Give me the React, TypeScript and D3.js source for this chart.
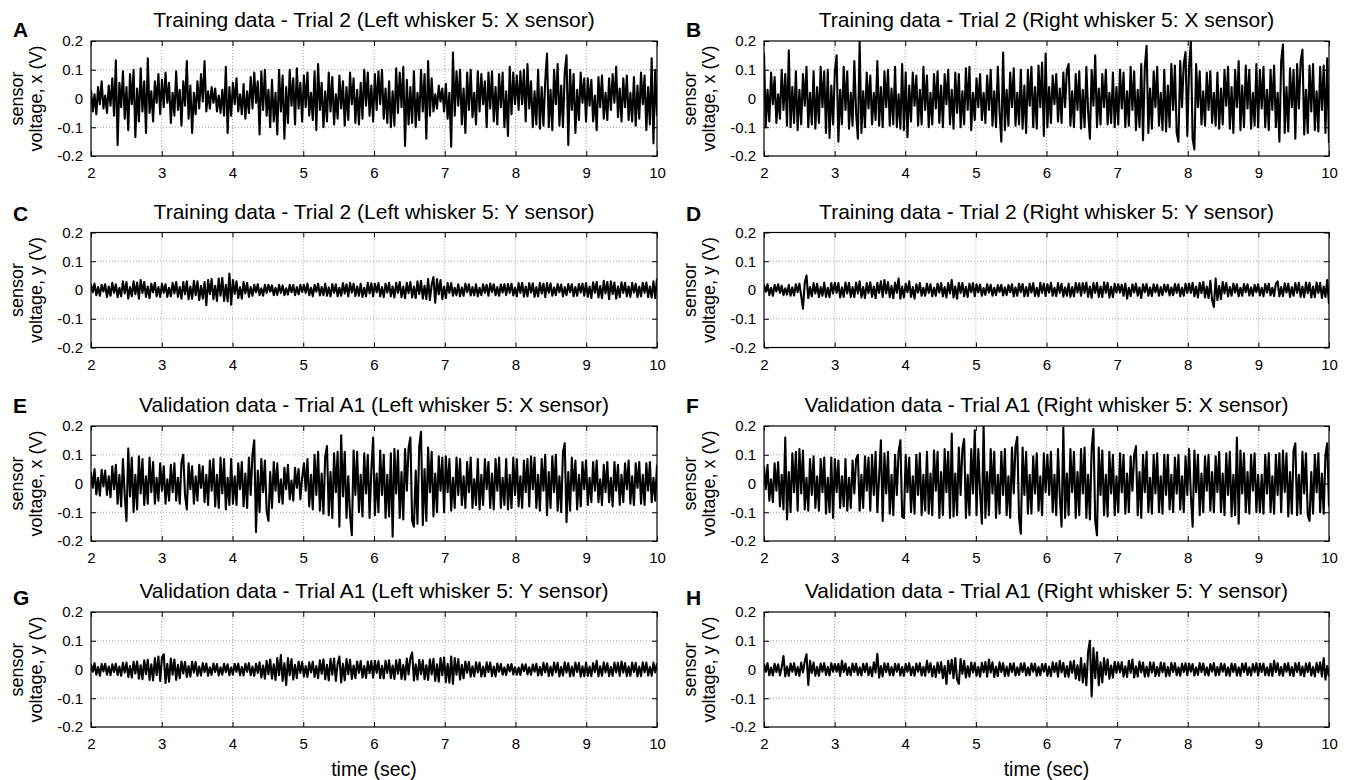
import React, { useRef, useEffect } from "react";
import * as d3 from "d3";

const W = 1354;
const H = 780;

// axis ticks
const xTicks = [2, 3, 4, 5, 6, 7, 8, 9, 10];
const yTicks = [-0.2, -0.1, 0, 0.1, 0.2];
const yTickLabels = ["-0.2", "-0.1", "0", "0.1", "0.2"];
const xGrid = [3, 4, 5, 6, 7, 8, 9];
const yGrid = [-0.1, 0, 0.1];

const panelLetters = ["A", "B", "C", "D", "E", "F", "G", "H"];
const panelTitles = [
  "Training data - Trial 2 (Left whisker 5: X sensor)",
  "Training data - Trial 2 (Right whisker 5: X sensor)",
  "Training data - Trial 2 (Left whisker 5: Y sensor)",
  "Training data - Trial 2 (Right whisker 5: Y sensor)",
  "Validation data - Trial A1 (Left whisker 5: X sensor)",
  "Validation data - Trial A1 (Right whisker 5: X sensor)",
  "Validation data - Trial A1 (Left whisker 5: Y sensor)",
  "Validation data - Trial A1 (Right whisker 5: Y sensor)",
];
const yLabelLines = [
  ["sensor", "voltage, x (V)"],
  ["sensor", "voltage, x (V)"],
  ["sensor", "voltage, y (V)"],
  ["sensor", "voltage, y (V)"],
  ["sensor", "voltage, x (V)"],
  ["sensor", "voltage, x (V)"],
  ["sensor", "voltage, y (V)"],
  ["sensor", "voltage, y (V)"],
];

// sensor voltage, in mV, 2 s .. 10 s (one row per second)
const trainLeftX = [
  30,-45,15,-55,40,-20,60,-35,10,-50,45,-25,70,-60,133,-162,55,-30,95,-70,40,-110,85,-20,100,-135,35,-80,105,-45,60,-120,140,-50,25,-80,60,-15,85,-55,
  65,-30,90,-15,55,-85,20,-60,95,-40,30,-95,60,-25,130,-70,45,-120,20,-55,60,-35,85,-10,130,-45,25,-35,40,-15,35,-45,10,-50,30,-60,110,-120,40,-60,
  55,-20,70,-45,15,-55,50,-70,25,-50,75,-35,90,-15,60,-125,95,-40,100,-60,30,-100,65,-80,20,-125,100,-45,80,-140,40,-85,100,-25,70,-90,105,-35,55,-80,
  80,-30,90,-60,20,-75,95,-110,120,-40,55,-100,25,-80,90,-45,75,-90,15,-70,80,-35,60,-95,40,-75,90,-20,70,-85,30,-90,55,-70,100,-25,90,-60,45,-80,
  85,-40,95,-20,100,-70,35,-85,60,-100,25,-95,105,-50,90,-30,110,-165,65,-90,40,-85,95,-100,20,-75,100,-45,85,-140,130,-60,70,-45,15,-35,45,-10,35,-45,
  50,-70,20,-168,160,-60,95,-25,100,-90,35,-120,90,-40,100,-65,20,-90,95,-45,85,-20,60,-100,90,-35,95,-80,40,-90,85,-30,90,-100,25,-130,110,-55,90,-20,
  80,-40,95,-20,100,-80,120,-35,60,-100,25,-90,100,-105,40,-95,60,156,-100,30,-110,100,-20,120,-95,45,-100,90,150,-162,100,-40,85,-120,30,-75,90,-15,70,-80,
  70,-25,65,-80,10,-110,75,-30,80,-70,20,-75,70,-40,85,-15,110,-65,35,-80,70,-30,80,-75,20,-80,75,-95,45,-70,90,-20,80,-110,40,-90,140,-156,100,-60,
];
const trainRightX = [
  160,-100,30,-80,90,-20,75,-85,15,-70,100,-40,85,-95,168,-100,40,-85,95,-110,30,-90,85,-25,110,-100,20,-90,95,-105,40,-85,110,-30,95,-120,100,-137,45,-90,
  95,150,-150,30,-90,110,-40,95,-105,20,-95,130,-50,-140,197,-120,25,-100,90,-35,80,-90,20,-75,130,-95,40,-100,95,-30,100,-95,35,-90,110,-100,15,-105,120,-110,
  90,-135,45,-80,90,-25,80,-95,30,-90,110,-40,80,-100,20,-90,85,-35,95,-85,45,-100,85,-20,100,-90,30,-105,90,-50,85,-100,25,-90,105,-40,110,-110,20,-75,
  70,-30,85,-75,20,-85,80,-40,100,-95,25,-100,110,-45,-150,160,-110,30,-95,90,-30,105,-95,20,-90,100,-105,45,-120,100,-25,110,-100,40,-105,115,-30,125,-130,156,
  -100,40,-85,80,-20,85,-80,35,-85,90,-30,100,120,-95,25,-100,85,-40,95,-105,30,-100,110,-45,-140,100,-25,150,-100,35,-90,85,-30,100,-90,20,-85,90,-100,40,
  -90,100,-35,90,-100,25,-95,110,-40,95,-110,30,-100,120,-145,110,183,-120,35,-105,95,-30,110,-95,20,-110,100,-115,45,-100,120,-40,115,-120,-150,130,-30,120,162,-130,
  110,197,-140,-177,120,-30,95,-90,25,-95,90,-40,95,-85,20,-95,90,-105,35,-90,100,-25,110,-105,40,-120,100,-30,130,-110,45,-100,115,-35,100,-105,20,-95,120,-100,
  100,-35,110,-100,30,-110,100,-40,115,-100,20,-150,130,188,-120,40,-115,105,-30,100,-140,120,-35,130,170,-125,30,-120,115,-45,120,-110,25,-115,110,-40,115,-120,140,-155,
];
const trainLeftY = [
  20,-8,22,-18,10,-20,18,-5,20,-25,12,-20,25,-10,20,-25,8,-22,30,-12,28,-30,10,-22,30,-15,26,-30,35,-10,28,-24,12,-28,22,-8,25,-22,10,-24,
  22,-10,20,-24,8,-22,25,-12,28,-24,10,-30,28,-15,30,-32,12,-30,32,-18,30,-35,15,-30,28,-53,35,-14,38,-32,15,-38,40,-20,42,-38,18,-40,57,-51,
  35,-14,30,-28,10,-30,28,-12,25,-24,10,-20,18,-8,20,-18,6,-20,18,-10,18,-6,16,-18,8,-17,18,-10,16,-18,6,-16,18,-8,17,-18,10,-15,18,-7,
  18,-10,22,-18,8,-22,18,-6,22,-19,10,-18,22,-20,9,-22,21,-10,20,-22,8,-20,24,-12,20,-22,25,-9,22,-21,12,-20,22,-24,8,-22,25,-12,23,-22,
  22,-8,24,-22,10,-25,22,-9,25,-22,12,-26,25,-10,28,-25,12,-28,25,-11,28,-26,12,-28,30,-14,32,-30,15,-32,38,-35,18,45,-44,38,-15,35,-32,12,
  -28,25,-10,24,-20,8,-18,20,-22,9,-20,22,-8,20,-19,10,-18,20,-22,8,-18,20,-10,18,-20,22,-7,20,-18,10,-20,19,-9,20,-18,21,-10,22,-19,8,
  -22,24,-10,25,-23,12,-22,24,-9,23,-24,10,-22,25,-12,22,-25,24,-10,23,-20,9,-18,21,-8,19,-22,10,-18,21,-8,20,-22,10,-20,21,-9,22,-20,24,
  -24,12,-28,27,-10,28,-26,14,-28,32,-12,28,-32,30,-14,26,-30,12,-25,27,-10,25,-22,12,-24,25,-9,22,-25,12,-22,25,-10,26,-25,12,-26,30,-28,40,
];
const trainRightY = [
  18,-6,20,-18,8,-20,18,-5,20,-10,15,-18,6,-16,18,-20,9,-19,20,-8,22,-20,-65,25,50,-28,10,-22,24,-12,22,-25,10,-20,26,-24,8,-25,24,-12,
  25,-10,24,-26,9,-24,26,-12,25,-24,10,-25,26,-12,30,-26,10,-28,24,-11,27,-24,12,-28,25,-10,30,-24,35,-12,28,-25,14,-28,26,-10,40,-30,12,-26,
  22,-8,30,-24,10,-30,20,-9,24,-20,8,-20,22,-10,20,-22,8,-20,22,-9,24,-22,10,-26,24,-12,35,-26,12,-30,25,-10,24,-22,11,-24,22,-8,24,-22,
  20,-8,19,-20,7,-17,20,-9,18,-20,8,-18,17,-7,18,-19,9,-18,17,-8,20,-22,9,-20,22,-8,21,-22,10,-21,22,-9,24,-21,8,-22,25,-10,22,-21,
  20,-9,25,-20,8,-21,24,-10,22,-23,9,-20,22,-24,10,-22,25,-9,23,-20,24,-10,26,-24,12,-27,24,-10,25,-24,12,-25,27,-10,25,-26,11,-25,22,-9,
  20,-9,18,-20,22,-30,8,-21,20,-9,22,-20,9,-28,20,-8,21,-20,9,-21,20,-8,18,-20,10,-18,19,-7,18,-19,9,-18,21,-10,20,-22,8,-20,22,-10,
  22,-10,25,-22,12,-26,25,-11,28,-26,12,-28,32,-35,-59,40,-35,14,-32,28,-12,25,-22,10,-20,22,-9,20,-22,8,-20,21,-8,20,-19,9,-20,18,-8,20,
  -19,8,-22,21,-9,22,-19,8,-21,22,30,-22,10,-21,23,-9,22,-24,10,-20,24,-10,25,-24,12,-25,26,-11,25,-26,12,-25,26,-10,25,-28,12,-24,35,-48,
];
const validLeftX = [
  40,-15,50,-38,20,-42,48,-10,45,-40,25,-48,60,-20,65,-70,30,-80,85,-40,-130,122,-45,90,-100,30,-90,95,-35,85,-75,25,-70,90,-30,75,-70,20,-60,70,
  -25,60,-70,15,-60,65,-30,70,-60,20,-70,75,100,-40,-90,70,-20,60,-70,25,-60,65,-15,60,-65,30,-75,80,-25,85,-80,30,-85,90,-35,85,-90,20,-75,85,
  -70,25,-75,70,-20,75,-80,35,-85,90,-40,100,150,-169,45,-100,85,-30,80,-95,-130,40,-85,75,-25,70,-65,15,-70,55,-20,65,-55,10,-60,55,-15,50,-55,20,
  70,-25,85,-80,30,-90,100,-40,110,-95,35,-105,95,130,-110,40,-120,105,-30,110,-150,168,-45,110,-120,25,-110,-180,115,-40,110,-100,30,-115,105,-35,100,-120,45,160,
  -110,35,-100,115,-40,100,-120,30,-115,105,-185,120,-35,115,-120,40,-125,120,-25,125,160,-130,-150,45,-140,130,180,-145,50,-130,125,-30,110,-115,35,-100,95,-25,90,-100,
  95,-30,85,-95,20,-85,90,-40,85,-75,25,-85,75,-30,90,-85,15,-75,85,-90,30,-75,85,-20,75,-85,35,-90,85,-25,90,-85,20,-75,85,-90,30,-85,90,-40,
  85,-80,25,-85,80,-30,85,-80,95,-20,90,-85,30,-95,85,-25,100,-110,40,-85,95,-30,100,-95,25,-100,110,140,-135,40,-95,90,-25,80,-90,30,-80,75,-20,80,
  -75,20,-65,75,-25,80,-65,15,-75,65,-30,75,-65,20,-80,75,-25,65,-75,30,-65,70,-20,80,-70,25,-75,70,-15,75,-70,30,-75,70,-25,75,-65,20,-60,65,
];
const validRightX = [
  60,-20,65,-60,15,-65,70,-25,75,-80,30,-90,160,-125,40,-100,105,-30,110,-95,120,-35,115,-90,20,-95,85,-40,95,-85,25,-95,85,-30,90,-105,20,-100,90,-120,
  85,-30,80,-85,25,-80,85,-95,20,-85,80,-35,85,100,-95,30,-85,95,-25,90,-95,100,-40,110,-100,25,150,-130,105,-35,110,-105,30,-110,100,-40,110,150,-115,-120,
  100,-30,90,-100,25,-105,100,-40,105,-110,30,-95,110,-105,35,-110,115,-25,110,-120,40,-110,120,-30,110,-120,174,-115,35,-110,125,-40,120,155,-120,30,-110,120,-35,185,
  -110,120,-30,-140,200,-120,40,-110,120,-35,110,-120,30,-105,110,-40,120,-110,25,-120,125,-35,130,162,-120,-175,125,-40,110,-105,30,-105,95,-35,105,-95,25,-110,105,-30,
  100,-40,110,-100,30,-110,120,-45,-150,195,-120,35,-110,120,-30,110,-120,40,-110,120,-35,125,-120,30,-125,120,190,-130,-180,125,-40,115,-110,30,-115,110,-35,100,-110,25,
  -100,105,-30,100,-105,35,-100,95,-25,100,130,-110,40,-120,100,-30,110,-100,20,-105,100,-35,105,-100,25,-105,100,-40,100,-90,30,-100,90,-35,100,-90,25,-100,95,-40,
  120,-40,-150,115,-30,100,-110,35,-100,95,-25,100,-95,40,-100,95,-30,110,-100,35,-110,105,-40,110,-115,30,-110,160,-140,115,-35,105,-100,40,-105,100,-25,105,-100,30,
  -100,30,-105,100,-35,105,-100,25,-105,100,-40,105,-100,115,-30,105,-115,40,-105,115,140,-110,30,-105,110,-35,105,-110,-130,40,-105,100,-30,105,-100,35,-105,100,140,-80,
];
const validLeftY = [
  18,-8,22,-18,9,-22,19,-7,20,-18,10,-20,18,-9,20,-19,10,-22,23,-11,24,-26,12,-28,27,-14,28,-32,15,-34,32,-16,34,-36,18,-38,40,-20,45,-40,
  42,53,-47,20,-42,38,-18,35,-36,16,-30,28,-14,27,-26,12,-25,27,-11,26,-22,10,-21,22,-9,21,-22,8,-19,21,-9,19,-21,8,-18,20,-9,18,-20,8,
  -18,20,-8,21,-20,9,-21,20,-8,22,-20,10,-22,20,-12,25,-28,14,-32,30,-16,35,-32,18,-36,40,-20,50,-40,22,-54,40,-20,36,-35,16,-30,28,-12,26,
  -25,12,-26,25,-10,27,-26,12,-30,32,-15,35,-34,16,-38,37,-18,38,-40,20,45,-45,20,-38,36,-16,34,-33,14,-30,28,-12,29,-28,12,-29,28,-13,29,-28,
  30,-12,29,-30,13,-31,30,-12,32,-30,14,-33,32,-15,35,-33,16,-35,38,-17,40,59,-38,18,-35,34,-16,32,-34,15,-36,35,-17,37,-40,18,-42,40,-20,42,
  -44,20,-46,45,-50,40,-18,36,-35,16,-30,28,-12,26,-25,11,-24,25,-10,24,-25,10,-24,25,-9,24,-23,10,-24,21,-8,19,-18,8,-19,17,-7,19,-17,8,
  -18,7,-19,18,-6,18,-17,8,-18,17,-8,20,-21,9,-20,23,-10,21,-23,10,-21,24,-10,23,-24,9,-21,25,-11,22,-24,10,-22,24,-9,23,-25,11,-23,24,
  -22,10,-23,22,-9,30,-24,11,-22,25,-10,22,-23,9,-22,24,-10,23,-22,28,-11,22,-23,10,-22,24,-9,23,-24,10,-23,25,-10,24,-21,9,-22,24,-10,22,
];
const validRightY = [
  20,-8,22,-20,7,-21,20,-9,18,-20,8,47,-24,10,-22,21,-8,22,-19,9,-22,24,-10,28,53,-54,30,-12,24,-22,9,-22,21,-8,22,-19,9,-21,22,-8,
  19,-8,20,-22,30,-9,21,-19,8,-20,21,-9,20,-19,8,-21,20,-9,21,-20,9,-24,25,-10,55,-28,12,-24,22,-9,21,-20,9,-21,20,-8,19,-21,9,-22,
  20,-8,22,-20,9,-22,21,-8,22,-21,9,-22,30,-10,22,-24,11,-26,24,-12,26,-30,12,-50,30,-14,34,-30,40,-35,-50,36,-15,30,-28,12,-25,24,-10,23,
  -22,9,-25,23,-10,26,-25,35,-11,25,-26,10,-23,25,-9,22,-23,10,-22,21,-9,22,-21,8,-19,21,-9,22,-21,8,-20,21,-8,20,-22,9,-20,19,-8,20,
  -22,10,-23,25,-9,22,-25,30,-10,23,-25,12,-26,28,-12,30,-32,15,-38,40,-45,20,-55,60,100,-94,75,-30,60,-55,25,-45,40,-18,35,-32,14,-28,27,-12,
  25,-10,26,-25,11,-26,30,-12,35,-28,11,-25,28,-10,24,-25,10,-24,25,-11,24,-23,9,-22,24,-10,22,-24,9,-22,23,-9,22,-20,8,-22,20,-9,22,-20,
  21,-8,19,-21,8,-19,22,-9,21,-19,8,-21,19,-8,22,-21,9,-19,21,-8,19,-21,8,-22,21,-9,19,-21,8,-22,21,-9,22,-19,8,-21,19,-9,22,-21,
  20,-9,21,-20,8,-21,20,-22,30,-9,22,-20,9,-22,20,-8,22,-20,9,-23,22,-9,23,-20,10,-24,21,-9,23,-21,9,-24,23,-10,25,-24,40,-35,12,-24,
];

const signals = [
  trainLeftX, trainRightX, trainLeftY, trainRightY,
  validLeftX, validRightX, validLeftY, validRightY,
];

const App = () => {
  const svgRef = useRef<SVGSVGElement>(null);

  useEffect(() => {
    const svg = d3.select(svgRef.current);
    svg.selectAll("*").remove();

    const font = "'Liberation Sans', Arial, Helvetica, sans-serif";
    // plot boxes
    const colLeft = [91, 764];
    const colRight = [657, 1329];
    const rowTop = [41, 232.5, 426, 612];
    const plotH = 115;
    const letterBase = [37, 221, 413, 605];

    signals.forEach((sig, i) => {
      const col = i % 2;
      const row = Math.floor(i / 2);
      const x0 = colLeft[col];
      const x1 = colRight[col];
      const y0 = rowTop[row];
      const y1 = y0 + plotH;

      const x = d3.scaleLinear().domain([2, 10]).range([x0, x1]);
      const y = d3.scaleLinear().domain([-0.2, 0.2]).range([y1, y0]);

      const g = svg.append("g");

      // dotted grid
      g.selectAll(".gx")
        .data(xGrid)
        .enter()
        .append("line")
        .attr("x1", (d) => x(d))
        .attr("x2", (d) => x(d))
        .attr("y1", y0)
        .attr("y2", y1)
        .attr("stroke", "#8a8a8a")
        .attr("stroke-width", 0.8)
        .attr("stroke-dasharray", "1,2");
      g.selectAll(".gy")
        .data(yGrid)
        .enter()
        .append("line")
        .attr("x1", x0)
        .attr("x2", x1)
        .attr("y1", (d) => y(d))
        .attr("y2", (d) => y(d))
        .attr("stroke", "#8a8a8a")
        .attr("stroke-width", 0.8)
        .attr("stroke-dasharray", "1,2");

      // signal
      const clipId = `clip-${i}`;
      svg
        .append("clipPath")
        .attr("id", clipId)
        .append("rect")
        .attr("x", x0)
        .attr("y", y0)
        .attr("width", x1 - x0)
        .attr("height", plotH);

      const n = sig.length;
      const line = d3
        .line<number>()
        .x((_, k) => x(2 + (k * 8) / (n - 1)))
        .y((d) => y(d / 1000));

      g.append("path")
        .datum(sig)
        .attr("d", line)
        .attr("fill", "none")
        .attr("stroke", "#000")
        .attr("stroke-width", 2.1)
        .attr("stroke-linejoin", "round")
        .attr("clip-path", `url(#${clipId})`);

      // axes, matlab style ticks pointing inward
      const bottom = g
        .append("g")
        .attr("transform", `translate(0,${y1})`)
        .call(
          d3.axisBottom(x).tickValues(xTicks).tickSizeInner(-5).tickSizeOuter(0).tickPadding(11.5).tickFormat(d3.format("d"))
        );
      const top = g
        .append("g")
        .attr("transform", `translate(0,${y0})`)
        .call(d3.axisTop(x).tickValues(xTicks).tickSizeInner(-5).tickSizeOuter(0).tickFormat(() => ""));
      const left = g
        .append("g")
        .attr("transform", `translate(${x0},0)`)
        .call(
          d3.axisLeft(y).tickValues(yTicks).tickSizeInner(-5).tickSizeOuter(0).tickPadding(8)
            .tickFormat((_, k) => yTickLabels[k])
        );
      const right = g
        .append("g")
        .attr("transform", `translate(${x1},0)`)
        .call(d3.axisRight(y).tickValues(yTicks).tickSizeInner(-5).tickSizeOuter(0).tickFormat(() => ""));

      [bottom, top, left, right].forEach((a) => {
        a.select(".domain").remove();
        a.selectAll("line").attr("stroke", "#000");
        a.selectAll("text").attr("font-family", font).attr("font-size", 15).attr("fill", "#000");
      });

      // box
      g.append("rect")
        .attr("x", x0)
        .attr("y", y0)
        .attr("width", x1 - x0)
        .attr("height", plotH)
        .attr("fill", "none")
        .attr("stroke", "#000")
        .attr("stroke-width", 1.2);

      // title
      g.append("text")
        .attr("x", (x0 + x1) / 2)
        .attr("y", y0 - 14)
        .attr("text-anchor", "middle")
        .attr("font-family", font)
        .attr("font-size", 21)
        .text(panelTitles[i]);

      // panel letter
      g.append("text")
        .attr("x", x0 - 78)
        .attr("y", letterBase[row])
        .attr("font-family", font)
        .attr("font-weight", "bold")
        .attr("font-size", 21)
        .text(panelLetters[i]);

      // y label, two lines
      const cy = (y0 + y1) / 2;
      const yl = g
        .append("text")
        .attr("transform", `translate(${x0 - 68},${cy}) rotate(-90)`)
        .attr("text-anchor", "middle")
        .attr("font-family", font)
        .attr("font-size", 18);
      yl.append("tspan").attr("x", 0).attr("y", 0).text(yLabelLines[i][0]);
      yl.append("tspan").attr("x", 0).attr("y", 19).text(yLabelLines[i][1]);

      // x label under the bottom row
      if (row === 3) {
        g.append("text")
          .attr("x", (x0 + x1) / 2)
          .attr("y", 776)
          .attr("text-anchor", "middle")
          .attr("font-family", font)
          .attr("font-size", 19.5)
          .text("time (sec)");
      }
    });
  }, []);

  return (
    <svg
      ref={svgRef}
      width={W}
      height={H}
      style={{ position: "absolute", left: 0, top: 0, background: "#fff" }}
    ></svg>
  );
};

export default App;
